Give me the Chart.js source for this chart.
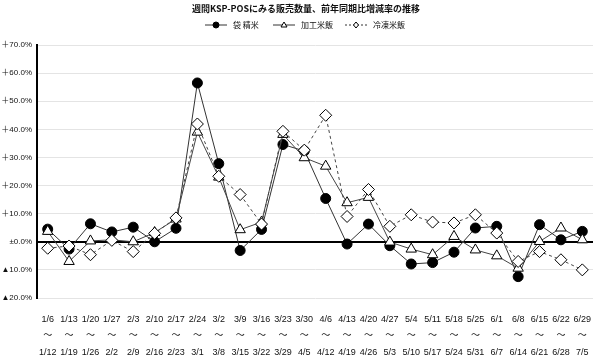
<!DOCTYPE html>
<html>
<head>
<meta charset="utf-8">
<script src="https://cdn.jsdelivr.net/npm/chart.js@4.4.1/dist/chart.umd.min.js"></script>
<style>
  html, body { margin: 0; padding: 0; background: #fff; }
</style>
</head>
<body>
<canvas id="chart" width="600" height="359"></canvas>
<script>
// 週の開始日・終了日
const weekStart = ['1/6','1/13','1/20','1/27','2/3','2/10','2/17','2/24','3/2','3/9','3/16','3/23','3/30',
                   '4/6','4/13','4/20','4/27','5/4','5/11','5/18','5/25','6/1','6/8','6/15','6/22','6/29'];
const weekEnd = ['1/12','1/19','1/26','2/2','2/9','2/16','2/23','3/1','3/8','3/15','3/22','3/29','4/5',
                 '4/12','4/19','4/26','5/3','5/10','5/17','5/24','5/31','6/7','6/14','6/21','6/28','7/5'];

// 前年同期比 増減率 (%)
const fukuroSeimai = [4.5, -2.6, 6.4, 3.5, 5.2, 0.0, 4.8, 56.5, 27.8, -3.1, 4.4, 34.6, 32.3,
                      15.4, -0.8, 6.3, -1.4, -7.9, -7.4, -3.7, 4.9, 5.5, -12.4, 6.1, 0.7, 3.7];
const kakouBeihan = [3.7, -7.0, 0.3, 0.7, 0.0, 3.3, 8.1, 39.0, 23.0, 4.3, 7.0, 38.2, 29.9,
                     26.9, 13.9, 15.8, -0.1, -2.6, -4.6, 1.9, -2.9, -5.0, -9.4, 0.1, 4.9, 0.7];
const reitouBeihan = [-2.3, -1.5, -4.6, 0.5, -3.5, 3.0, 8.5, 41.9, 23.3, 16.8, 6.3, 39.3, 32.6,
                      45.0, 9.0, 18.6, 5.5, 9.6, 7.0, 6.7, 9.6, 3.1, -7.0, -3.5, -6.4, -10.0];

// 縦軸の目盛り
const yTicks = [70, 60, 50, 40, 30, 20, 10, 0, -10, -20];
const yTickLabels = ['＋70.0%','＋60.0%','＋50.0%','＋40.0%','＋30.0%','＋20.0%','＋10.0%','±0.0%','▲10.0%','▲20.0%'];

const titleText = '週間KSP-POSにみる販売数量、前年同期比増減率の推移';
const FONT = '"Noto Sans CJK JP", "Noto Sans", sans-serif';
const SMALL = '"Liberation Sans", "Noto Sans CJK JP", sans-serif';

const labels = weekStart.map((s, i) => [s, '～', weekEnd[i]]);

// タイトルと凡例を描く
const headerPlugin = {
  id: 'header',
  afterDraw(chart) {
    const ctx = chart.ctx;
    ctx.save();
    ctx.fillStyle = '#111';
    ctx.textBaseline = 'middle';
    ctx.textAlign = 'center';
    ctx.font = 'bold 9px ' + FONT;
    ctx.fillText(titleText, 306, 9);

    ctx.font = '8px ' + FONT;
    ctx.textAlign = 'left';
    const y = 25;
    chart.data.datasets.forEach((ds, i) => {
      const x0 = [205, 273, 345][i];
      ctx.strokeStyle = '#333';
      ctx.lineWidth = 1;
      ctx.setLineDash(ds.borderDash ? [2, 2] : []);
      ctx.beginPath();
      ctx.moveTo(x0, y);
      ctx.lineTo(x0 + 22, y);
      ctx.stroke();
      ctx.setLineDash([]);
      ctx.fillStyle = ds.pointBackgroundColor;
      ctx.strokeStyle = '#000';
      const cx = x0 + 11;
      ctx.beginPath();
      if (ds.pointStyle === 'circle') {
        ctx.arc(cx, y, 3, 0, Math.PI * 2);
      } else if (ds.pointStyle === 'triangle') {
        ctx.moveTo(cx, y - 3); ctx.lineTo(cx + 3, y + 2); ctx.lineTo(cx - 3, y + 2); ctx.closePath();
      } else {
        ctx.moveTo(cx, y - 3); ctx.lineTo(cx + 2.5, y); ctx.lineTo(cx, y + 3); ctx.lineTo(cx - 2.5, y); ctx.closePath();
      }
      ctx.fill();
      ctx.stroke();
      ctx.fillStyle = '#111';
      ctx.fillText(ds.label, x0 + 28, y);
    });
    ctx.restore();
  }
};

new Chart(document.getElementById('chart'), {
  type: 'line',
  data: {
    labels: labels,
    datasets: [
      {
        label: '袋 精米',
        data: fukuroSeimai,
        borderColor: '#333',
        borderWidth: 1,
        pointStyle: 'circle',
        pointRadius: 5,
        pointBackgroundColor: '#000',
        pointBorderColor: '#000',
        order: 3
      },
      {
        label: '加工米飯',
        data: kakouBeihan,
        borderColor: '#444',
        borderWidth: 1,
        pointStyle: 'triangle',
        pointRadius: 6,
        pointBackgroundColor: '#fff',
        pointBorderColor: '#000',
        pointBorderWidth: 1,
        order: 2
      },
      {
        label: '冷凍米飯',
        data: reitouBeihan,
        borderColor: '#444',
        borderWidth: 1,
        borderDash: [3, 3],
        pointStyle: 'rectRot',
        pointRadius: 6,
        pointBackgroundColor: '#fff',
        pointBorderColor: '#000',
        pointBorderWidth: 1,
        order: 1
      }
    ]
  },
  options: {
    responsive: false,
    animation: false,
    layout: { padding: { top: 45, right: 7, bottom: 4, left: 0 } },
    plugins: {
      legend: { display: false },
      title: { display: false },
      tooltip: { enabled: false }
    },
    scales: {
      x: {
        offset: true,
        afterFit: s => { s.height = 57; },
        grid: { display: false },
        border: { display: false },
        ticks: {
          color: '#111',
          font: { family: SMALL, size: 9, lineHeight: 1.83 },
          maxRotation: 0,
          autoSkip: false,
          padding: 5
        }
      },
      y: {
        min: -20,
        max: 70,
        afterFit: s => { s.width = 37; },
        afterBuildTicks: s => { s.ticks = yTicks.map(v => ({ value: v })); },
        grid: {
          drawTicks: false,
          color: c => c.tick && c.tick.value === 0 ? '#000' : '#e4e4e4',
          lineWidth: c => c.tick && c.tick.value === 0 ? 2 : 1
        },
        border: { display: true, color: '#000', width: 2 },
        ticks: {
          color: '#111',
          font: { family: SMALL, size: 8 },
          padding: 5,
          callback: v => yTickLabels[yTicks.indexOf(v)]
        }
      }
    }
  },
  plugins: [headerPlugin]
});
</script>
</body>
</html>
